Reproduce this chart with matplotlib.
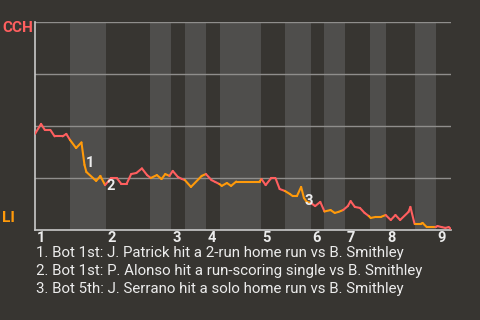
import matplotlib
matplotlib.use("Agg")
import matplotlib.pyplot as plt
import numpy as np

# ---- data ----
away_team = "CCH"
home_team = "LI"
# start of each half-inning in event units (top 1st, bot 1st, top 2nd, ...)
half_starts = [0, 7.5, 15.2, 24.6, 29.1, 32.1, 36.6, 39.6, 48.4, 53.5,
               59.1, 62.0, 66.5, 71.7, 75.1, 81.3, 85.8]
x_end = 89.1
inning_labels = ["1", "2", "3", "4", "5", "6", "7", "8", "9"]

# event index and away-team (CCH) win probability in %
event_x = [0, 1.3, 2.1, 3.3, 4.2, 5.9, 6.7, 7.5, 8.8, 9.95, 10.6, 11.0, 13.1, 14.0,
           15.0, 16.3, 17.5, 18.5, 19.6, 20.6, 21.7, 22.9, 24.0, 24.8, 26.1, 27.1,
           27.9, 28.8, 29.5, 30.6, 31.5, 32.1, 33.4, 35.7, 36.6, 37.8, 38.6, 39.5,
           40.0, 41.1, 42.0, 43.1, 48.1, 48.5, 49.4, 50.6, 51.5, 52.4, 53.5, 54.6,
           55.2, 56.1, 57.0, 57.6, 58.2, 59.1, 60.0, 61.1, 62.0, 63.3, 64.2, 65.0,
           66.0, 67.0, 67.6, 68.5, 69.6, 70.6, 71.5, 71.9, 73.0, 74.1, 75.1, 76.2,
           77.2, 78.2, 80.0, 80.4, 81.3, 82.6, 83.0, 83.9, 85.8, 86.2, 87.1, 87.9,
           88.6, 89.1]
win_prob = [46.2, 51.0, 48.1, 48.1, 45.0, 45.0, 46.2, 43.3, 39.4, 42.1, 31.3, 27.9,
            23.6, 26.0, 21.6, 25.0, 25.0, 22.1, 22.1, 26.9, 27.4, 29.6, 26.4, 25.0,
            26.4, 24.5, 26.9, 26.0, 28.4, 25.5, 24.5, 24.0, 20.7, 26.0, 26.9, 24.0,
            23.1, 22.1, 21.2, 22.6, 21.2, 23.3, 23.3, 24.5, 21.6, 25.0, 25.0, 19.7,
            18.8, 17.3, 16.3, 16.3, 20.7, 15.4, 13.5, 13.0, 11.5, 13.5, 8.9, 9.6,
            8.2, 8.7, 9.6, 11.5, 13.9, 11.1, 10.6, 8.2, 6.7, 5.8, 6.3, 6.3, 7.2,
            4.8, 7.2, 4.8, 8.7, 11.1, 2.9, 2.9, 3.4, 1.4, 1.4, 1.9, 1.4, 1.0, 1.4, 0.5]

# annotated plays: index into the event list
note_idx = [10, 14, 53]
note_text = [
    "1. Bot 1st: J. Patrick hit a 2-run home run vs B. Smithley",
    "2. Bot 1st: P. Alonso hit a run-scoring single vs B. Smithley",
    "3. Bot 5th: J. Serrano hit a solo home run vs B. Smithley",
]

# ---- style ----
BG = "#373531"
BAND = "#4f4e4c"
RED = "#ff5f5f"
ORANGE = "#ff9a0a"
GRID = "#8f8e8c"
AXIS = "#c9c9c9"
TXT = "#ececec"

plt.rcParams['font.family'] = ['Roboto', 'DejaVu Sans']

fig = plt.figure(figsize=(4.8, 3.2), dpi=100, facecolor=BG)
ax = fig.add_axes([35/480, 1-230/320, 416/480, 208/320], facecolor=BG)
ax.set_xlim(0, x_end)
ax.set_ylim(0, 100)

bounds = half_starts + [x_end]
for i in range(len(half_starts)):
    if i % 2 == 1:
        ax.axvspan(bounds[i], bounds[i+1], color=BAND, lw=0, zorder=0)

for g in [25, 50, 75, 100]:
    ax.axhline(g, color=GRID, lw=1.0, zorder=1)

for s in ['top', 'right']:
    ax.spines[s].set_visible(False)
for s in ['left', 'bottom']:
    ax.spines[s].set_color(AXIS)
    ax.spines[s].set_linewidth(1.2)

ax.set_xticks([])
ax.set_yticks([])

# line coloured by half-inning
xs = np.array(event_x)
ys = np.array(win_prob)
def half_of(x):
    return int(np.searchsorted(half_starts, x, side='right') - 1)
for i in range(len(xs) - 1):
    h = half_of((xs[i] + xs[i+1]) / 2)
    c = ORANGE if h % 2 == 1 else RED
    ax.plot(xs[i:i+2], ys[i:i+2], color=c, lw=1.5, zorder=3,
            solid_capstyle='round', solid_joinstyle='round')

# annotations
offsets = [(1.0, 1.5), (0.7, -0.7), (0.7, -2.0)]
for k, (idx, off) in enumerate(zip(note_idx, offsets)):
    ax.annotate(str(k+1), (xs[idx], ys[idx]), xytext=off, textcoords='offset points',
                color=TXT, fontsize=10.5, fontweight='bold', ha='left', va='center', zorder=4)

# inning labels at start of each top half
for i, lab in enumerate(inning_labels):
    ax.text(half_starts[2*i] + 0.3, -4.0, lab, transform=ax.transData, color=TXT,
            fontsize=10.5, fontweight='bold', ha='left', va='center')

fig.text(2/480, 1-28/320, away_team, color=RED, fontsize=11, fontweight='bold',
         ha='left', va='center')
fig.text(2/480, 1-218/320, home_team, color=ORANGE, fontsize=11, fontweight='bold',
         ha='left', va='center')

for j, t in enumerate(note_text):
    fig.text(36/480, 1-(253 + 18*j)/320, t, color=TXT, fontsize=10.8,
             ha='left', va='center')

fig.savefig("out.png", dpi=100, facecolor=BG)
